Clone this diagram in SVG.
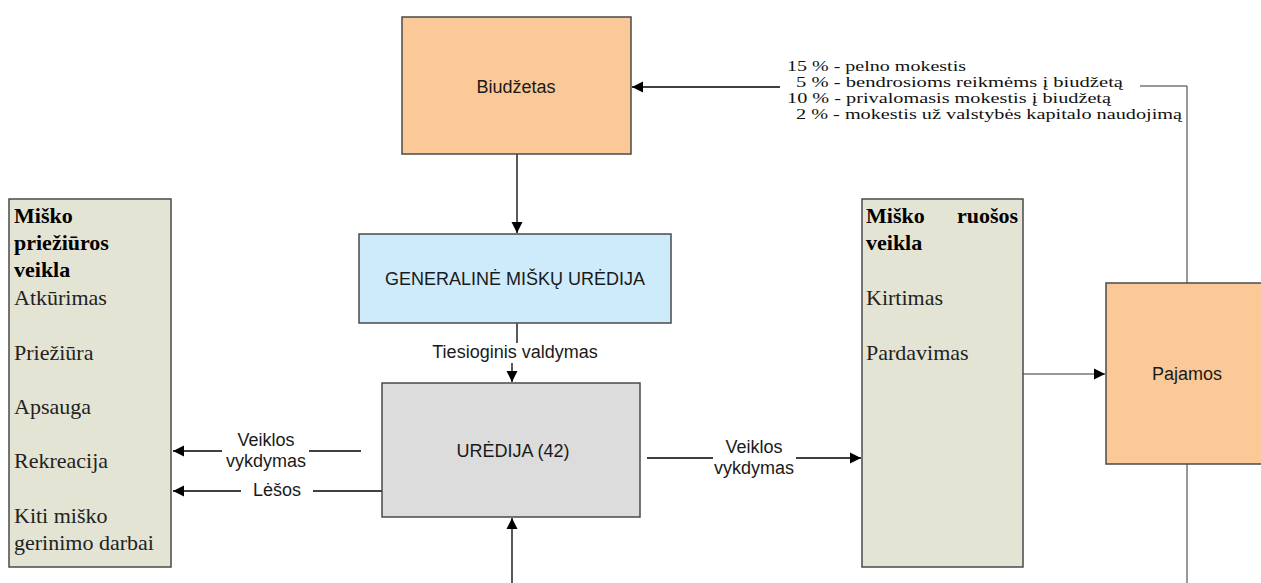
<svg xmlns="http://www.w3.org/2000/svg" width="1261" height="583" viewBox="0 0 1261 583">
<style>
.box{stroke:#4a4a4a;stroke-width:1.5}
.peach{fill:#FBC997}
.blue{fill:#CDEBFA}
.grey{fill:#DCDCDC}
.beige{fill:#E4E4D4}
.sans{font-family:"Liberation Sans",Arial,sans-serif;font-size:18px;fill:#1a1a1a}
.mid{text-anchor:middle}
.serif{font-family:"Liberation Serif","Times New Roman",serif;font-size:22px;fill:#222}
.bold{font-weight:bold;fill:#000}
.note{font-family:"Liberation Serif","Times New Roman",serif;font-size:15.5px;fill:#111}
.ln{fill:none;stroke:#000;stroke-width:1.3}
.thin{fill:none;stroke:#333;stroke-width:1}
</style>
<defs>
<marker id="ah" markerUnits="userSpaceOnUse" markerWidth="12" markerHeight="12" refX="11" refY="6" orient="auto">
<path d="M0,0.5 L11,6 L0,11.5 Z" fill="#000"/>
</marker>
</defs>
<rect width="1261" height="583" fill="#fff"/>

<g id="connectors">
<line class="ln" x1="517" y1="154" x2="517" y2="233" marker-end="url(#ah)"/>
<line class="ln" x1="517" y1="323" x2="517" y2="343"/>
<line class="ln" x1="512" y1="363" x2="512" y2="382" marker-end="url(#ah)"/>
<line class="ln" x1="512" y1="583" x2="512" y2="518" marker-end="url(#ah)"/>
<line class="ln" x1="361" y1="451" x2="309" y2="451"/>
<line class="ln" x1="222" y1="451" x2="173" y2="451" marker-end="url(#ah)"/>
<line class="ln" x1="382" y1="491" x2="313" y2="491"/>
<line class="ln" x1="241" y1="491" x2="173" y2="491" marker-end="url(#ah)"/>
<line class="ln" x1="647" y1="458" x2="713" y2="458"/>
<line class="ln" x1="796" y1="458" x2="861" y2="458" marker-end="url(#ah)"/>
<line class="thin" x1="1023" y1="374" x2="1105" y2="374" marker-end="url(#ah)"/>
<polyline class="thin" points="1187,283 1187,86 1140,86"/>
<line class="thin" x1="1187" y1="464" x2="1187" y2="583"/>
<line class="ln" x1="780" y1="87" x2="632" y2="87" marker-end="url(#ah)"/>
<text class="sans mid" x="515" y="358">Tiesioginis valdymas</text>
<text class="sans mid" x="266" y="446">Veiklos</text>
<text class="sans mid" x="266" y="467">vykdymas</text>
<text class="sans mid" x="277" y="496">Lėšos</text>
<text class="sans mid" x="754" y="453">Veiklos</text>
<text class="sans mid" x="754" y="474">vykdymas</text>
<text class="note" x="787" y="71" textLength="179" lengthAdjust="spacingAndGlyphs">15 % - pelno mokestis</text>
<text class="note" x="796" y="87" textLength="327" lengthAdjust="spacingAndGlyphs">5 % - bendrosioms reikmėms į biudžetą</text>
<text class="note" x="787" y="103" textLength="324" lengthAdjust="spacingAndGlyphs">10 % - privalomasis mokestis į biudžetą</text>
<text class="note" x="796" y="119" textLength="386" lengthAdjust="spacingAndGlyphs">2 % - mokestis už valstybės kapitalo naudojimą</text>
</g>

<g id="biudzetas">
<rect class="box peach" x="402" y="17" width="229" height="137"/>
<text class="sans mid" x="516" y="93">Biudžetas</text>
</g>

<g id="gmu">
<rect class="box blue" x="359" y="234" width="312" height="89"/>
<text class="sans mid" x="515" y="285">GENERALINĖ MIŠKŲ URĖDIJA</text>
</g>

<g id="uredija">
<rect class="box grey" x="382" y="383" width="258" height="134"/>
<text class="sans mid" x="513" y="457">URĖDIJA (42)</text>
</g>

<g id="prieziura">
<rect class="box beige" x="9" y="199" width="162" height="368"/>
<text class="serif bold" x="14" y="223">Miško</text>
<text class="serif bold" x="14" y="250">priežiūros</text>
<text class="serif bold" x="14" y="277">veikla</text>
<text class="serif" x="14" y="305">Atkūrimas</text>
<text class="serif" x="14" y="360">Priežiūra</text>
<text class="serif" x="14" y="414">Apsauga</text>
<text class="serif" x="14" y="468">Rekreacija</text>
<text class="serif" x="14" y="523">Kiti miško</text>
<text class="serif" x="14" y="550">gerinimo darbai</text>
</g>

<g id="ruosa">
<rect class="box beige" x="862" y="199" width="161" height="368"/>
<text class="serif bold" x="866" y="223">Miško</text>
<text class="serif bold" x="1018" y="223" text-anchor="end">ruošos</text>
<text class="serif bold" x="866" y="250">veikla</text>
<text class="serif" x="866" y="305">Kirtimas</text>
<text class="serif" x="866" y="360">Pardavimas</text>
</g>

<g id="pajamos">
<rect class="box peach" x="1106" y="283" width="170" height="181"/>
<text class="sans mid" x="1187" y="380">Pajamos</text>
</g>
</svg>
